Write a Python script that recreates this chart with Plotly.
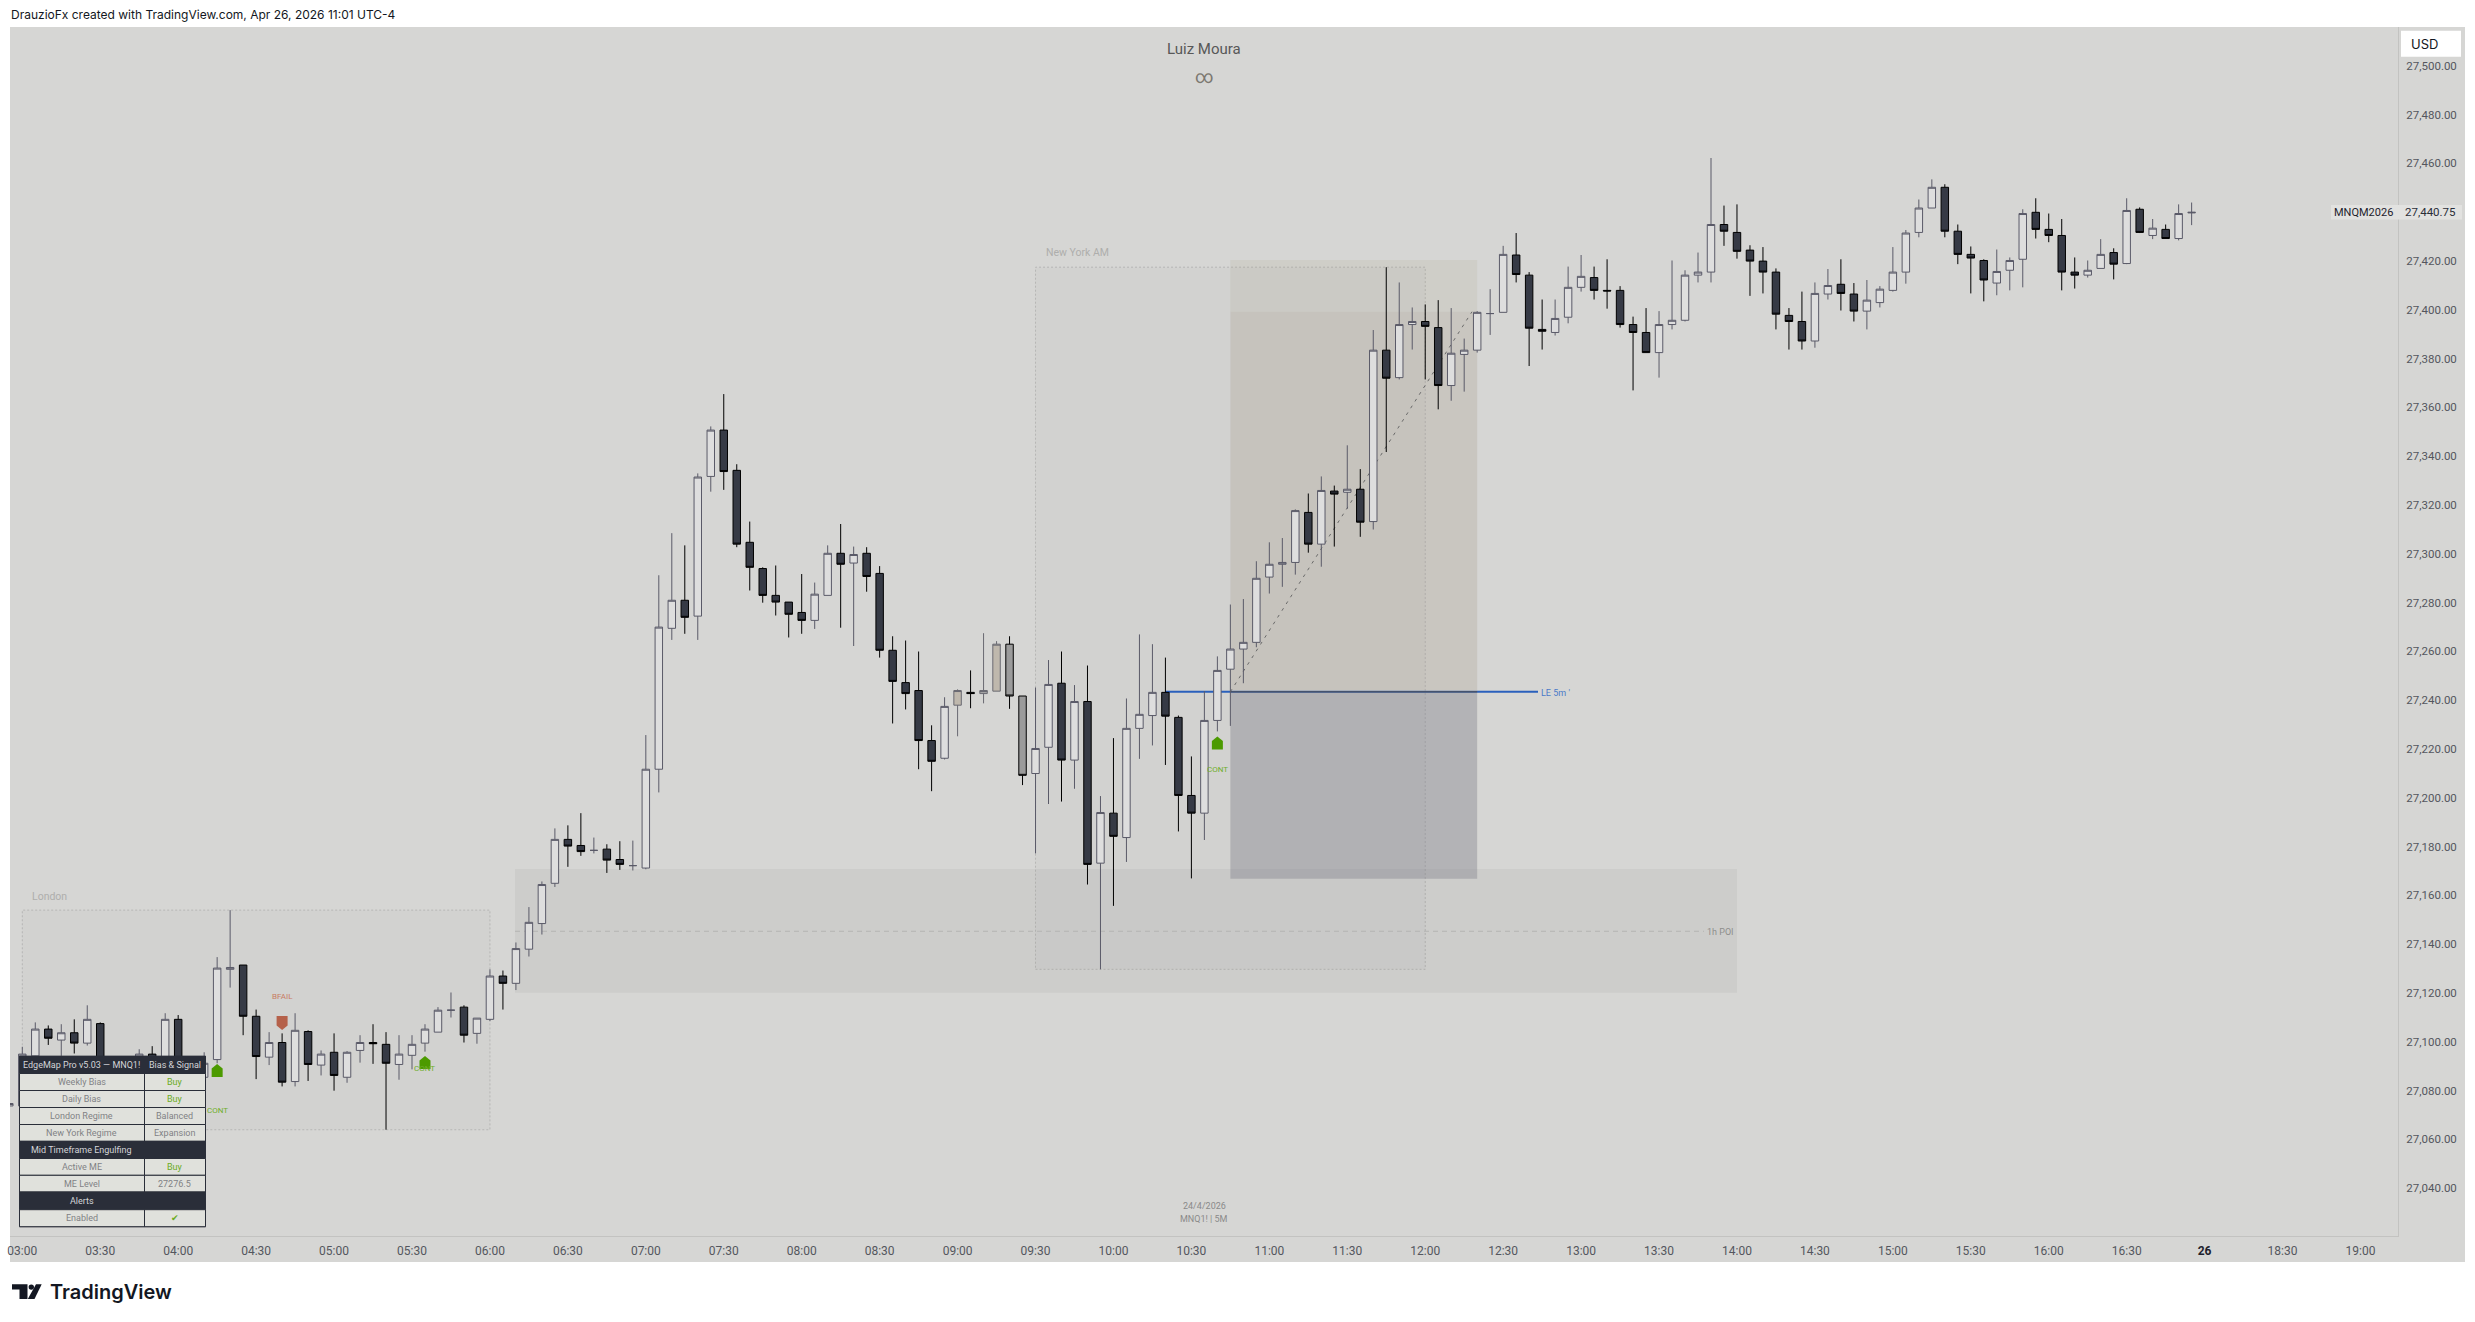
import plotly.graph_objects as go

# 5-minute MNQ bars, numbered from the 03:00 bar (bar 0); the list opens one bar earlier
FIRST_BAR = -1
OPEN = [
    27074.5, 27074.5, 27095, 27106, 27101.5, 27104.5, 27100.25, 27108.25, 27084, 27086,
    27090, 27095.75, 27090, 27110, 27086, 27086.25, 27093.5, 27130.5, 27132.25, 27111.25,
    27094.5, 27100.5, 27084.5, 27105, 27091.25, 27096.5, 27086.25, 27097.25, 27100.5, 27099.75,
    27091.5, 27095.25, 27100.25, 27104.75, 27113.75, 27115, 27104.25, 27110, 27127.75, 27124.75,
    27138.75, 27149.25, 27165.75, 27183.75, 27181.25, 27179.25, 27179.75, 27175.5, 27173, 27172,
    27212.5, 27270.25, 27281.75, 27275.25, 27332.5, 27351.5, 27335, 27305.5, 27294.75, 27283.75,
    27281, 27276.75, 27273.5, 27283.75, 27301, 27297, 27301, 27292.75, 27261.25, 27248,
    27244.75, 27224.25, 27217, 27238.75, 27244, 27243.5, 27244.5, 27263.75, 27242.5, 27210.75,
    27221.5, 27247.75, 27216.25, 27240.25, 27174, 27194.5, 27184.5, 27229.25, 27234.5, 27244,
    27233.75, 27201.75, 27194.5, 27232.5, 27253.5, 27261.75, 27264.5, 27291.25, 27296.5, 27297.25,
    27317.75, 27304.75, 27326.5, 27326, 27327.25, 27314, 27384.25, 27373, 27394.75, 27396,
    27393.5, 27369.75, 27382.5, 27384.25, 27399.25, 27399.75, 27423.25, 27415, 27392.75, 27391.5,
    27397.75, 27410, 27414, 27408.75, 27408.75, 27394.75, 27391.5, 27383.25, 27394.75, 27396.5,
    27415, 27416.25, 27435.75, 27432.5, 27425.25, 27420.75, 27416.25, 27398.5, 27396, 27388,
    27407.25, 27411.25, 27407.25, 27400.25, 27403.75, 27408.75, 27416.25, 27432.5, 27442.5, 27451,
    27433, 27423.5, 27421, 27411.75, 27417, 27421.5, 27440.75, 27433.75, 27431.25, 27416.25,
    27415, 27417.75, 27424.25, 27419.75, 27442, 27431.25, 27433.75, 27430, 27440.5,
]
HIGH = [
    27076, 27098.75, 27108.75, 27107.5, 27108, 27110, 27115.75, 27108.75, 27089, 27092,
    27097.75, 27099, 27112.5, 27111.75, 27089, 27096.5, 27135.5, 27154.75, 27132.25, 27114,
    27104.75, 27104.25, 27112.5, 27105.5, 27097.25, 27104.25, 27097, 27103.5, 27108, 27104.75,
    27103.5, 27103.5, 27108, 27115, 27121, 27115.75, 27110.5, 27130.5, 27130, 27141.5,
    27156, 27166.5, 27188.25, 27189.5, 27194.5, 27184.5, 27181.75, 27183, 27183.25, 27226.5,
    27292, 27309.25, 27304.25, 27333.75, 27353, 27366.25, 27337.5, 27314, 27295.25, 27296,
    27281, 27292.5, 27289, 27304.25, 27313, 27303.75, 27303.5, 27295.75, 27267, 27265.25,
    27260.75, 27230.5, 27242, 27245.25, 27253, 27268.25, 27265, 27267, 27242.5, 27246,
    27257.25, 27260.75, 27247, 27255, 27201.5, 27225.25, 27241.5, 27267.75, 27263.75, 27258.25,
    27234.5, 27217.75, 27244.5, 27258.75, 27280, 27282.25, 27297.75, 27305.5, 27307.25, 27319,
    27325.5, 27332.5, 27328.75, 27345.25, 27335.5, 27392.5, 27418.25, 27412, 27401.75, 27403,
    27404.75, 27401.5, 27389, 27400.25, 27409.25, 27427, 27432.25, 27416.25, 27405, 27405,
    27418.5, 27423.25, 27418.5, 27421.5, 27410.5, 27398, 27401.5, 27400.25, 27421, 27417,
    27424.25, 27463, 27443.5, 27444, 27427.25, 27426.5, 27417.75, 27401.5, 27408.25, 27412,
    27417.5, 27421.5, 27411.75, 27413, 27410.5, 27426.5, 27433.5, 27446, 27454.25, 27452.25,
    27435.75, 27426.75, 27421.5, 27425.5, 27422.25, 27442, 27446.5, 27440.25, 27438, 27422.25,
    27421, 27429.75, 27426, 27446.5, 27442.75, 27438, 27435.75, 27444, 27444.75,
]
LOW = [
    27074, 27073.75, 27094, 27099.5, 27095, 27096, 27099.25, 27083, 27081, 27084,
    27088, 27087, 27088, 27084, 27076, 27082.5, 27092, 27123, 27103.5, 27085.5,
    27091.25, 27082.5, 27082.5, 27084.75, 27087, 27080.75, 27084, 27092.25, 27091.75, 27064.75,
    27085.25, 27089.5, 27096.75, 27104.75, 27110.75, 27100.5, 27100, 27109.25, 27114, 27122,
    27135.75, 27144.75, 27164.25, 27172.5, 27177, 27178, 27170, 27171.25, 27171, 27171.5,
    27203, 27265.5, 27268, 27265.5, 27326.25, 27327, 27303.5, 27285.75, 27280.75, 27275.5,
    27266.5, 27268, 27270, 27283.75, 27270.5, 27263, 27285.25, 27258.25, 27231.25, 27237,
    27212.5, 27203.5, 27216.5, 27226, 27237.5, 27239.5, 27244.5, 27237.25, 27206, 27178,
    27198.25, 27199.25, 27204.5, 27165.25, 27130.5, 27156.5, 27174.5, 27216.75, 27222.25, 27214.25,
    27187, 27167.75, 27183.5, 27228, 27230.25, 27247.75, 27262.5, 27284.5, 27287.25, 27292.25,
    27301.25, 27295.5, 27303.75, 27319.25, 27307.75, 27310.75, 27342.5, 27372.25, 27384.5, 27372.25,
    27360, 27363.5, 27367.25, 27383.25, 27390.5, 27399.75, 27412, 27377.75, 27384.5, 27390.25,
    27395.25, 27408.25, 27405, 27401.25, 27393.5, 27367.75, 27383.25, 27373, 27392.75, 27396,
    27412, 27412, 27427, 27421.75, 27406.5, 27407.5, 27392.75, 27384.5, 27384.5, 27385.25,
    27405, 27400.5, 27396, 27392.75, 27401.75, 27408.25, 27411.5, 27430.5, 27442.5, 27430.5,
    27419.5, 27407.5, 27404.25, 27406.75, 27408.75, 27410, 27430, 27428.5, 27408.75, 27409.5,
    27414, 27417.75, 27413.25, 27419.5, 27432.25, 27429.75, 27430, 27429.25, 27435.5,
]
CLOSE = [
    27075.5, 27095.75, 27106, 27102.25, 27104.5, 27100.25, 27110, 27086, 27086, 27090,
    27095.75, 27090, 27110, 27086, 27080, 27092, 27131, 27131.25, 27111.25, 27094.75,
    27100.5, 27084.25, 27105.5, 27091.5, 27095.75, 27087, 27096.5, 27100.5, 27100, 27092,
    27095.75, 27099.75, 27106, 27113.75, 27113.75, 27103.5, 27110.5, 27127.75, 27124.75, 27139,
    27149.75, 27165.25, 27183.75, 27181, 27178.75, 27179.25, 27175.25, 27173.5, 27173, 27212.5,
    27270.75, 27281.75, 27274.75, 27332.25, 27351.5, 27334.5, 27304.75, 27295.25, 27283.75, 27281,
    27276, 27273.5, 27284.25, 27301, 27296.5, 27300.5, 27291.5, 27261.25, 27248.5, 27243.5,
    27224.25, 27215.75, 27238.25, 27244.75, 27243.5, 27244.75, 27263.75, 27242.5, 27210, 27221,
    27247.25, 27216.25, 27240.25, 27173.5, 27194.75, 27185, 27229.25, 27235, 27244, 27234.25,
    27201.75, 27194.5, 27232.5, 27253, 27261.75, 27264.5, 27290.75, 27296.5, 27297.25, 27318.5,
    27304.75, 27326.75, 27325.25, 27327.25, 27313.75, 27384.25, 27372.75, 27394.75, 27396, 27394,
    27369.75, 27383, 27384.25, 27399.75, 27399.25, 27423.5, 27415.25, 27393.25, 27392, 27397.25,
    27410, 27414.5, 27408.75, 27408.5, 27394.75, 27391.5, 27383.25, 27394.75, 27396.5, 27415,
    27416.25, 27435.75, 27433, 27424.75, 27420.75, 27416.25, 27399, 27396, 27388, 27407.5,
    27410.75, 27407.5, 27400.25, 27404.75, 27409.25, 27416.25, 27432.25, 27442.5, 27451, 27433,
    27423.5, 27422, 27413, 27416.5, 27421, 27440.25, 27433.75, 27431.25, 27416.25, 27415,
    27417, 27423.5, 27419.5, 27441.5, 27432.5, 27434.25, 27430, 27440.25, 27440.75,
]

# Bars the indicator recolours
TAN_BARS = [72, 75]
PALE_GREY_BARS = [74]
GREY_BARS = [76, 77]

TIME_LABELS = [
    "03:00", "03:30", "04:00", "04:30", "05:00", "05:30", "06:00", "06:30", "07:00", "07:30",
    "08:00", "08:30", "09:00", "09:30", "10:00", "10:30", "11:00", "11:30", "12:00", "12:30",
    "13:00", "13:30", "14:00", "14:30", "15:00", "15:30", "16:00", "16:30",
    '<span style="color:#1e222d"><b>26</b></span>', "18:30", "19:00",
]
BARS_PER_TICK = 6

LAST_PRICE = 27440.75
ENTRY_PRICE = 27244.25
TARGET_PRICE = 27400.0
UPPER_TARGET_PRICE = 27421.2
STOP_PRICE = 27167.65
POI_TOP = 27171.6
POI_BOTTOM = 27120.9
POI_MID = 27146.1

LONG_BUY_BARS = [15, 31, 92]
LONG_BUY_PRICES = [27089.0, 27092.3, 27223.25]
CONT_PRICES = [27072.7, 27090.0, 27212.2]
BFAIL_BAR = 20
BFAIL_PRICE = 27108.5
BFAIL_LABEL_PRICE = 27119.25

TABLE_ROWS = [
    ("EdgeMap Pro v5.03 — MNQ1!", "Bias & Signal", "head"),
    ("Weekly Bias", "Buy", "buy"),
    ("Daily Bias", "Buy", "buy"),
    ("London Regime", "Balanced", "plain"),
    ("New York Regime", "Expansion", "plain"),
    ("Mid Timeframe Engulfing", "", "head"),
    ("Active ME", "Buy", "buy"),
    ("ME Level", "27276.5", "plain"),
    ("Alerts", "", "head"),
    ("Enabled", "✔", "buy"),
]

# Page geometry, in pixels
W, H = 2475, 1322
PLOT_L, PLOT_R, PLOT_T, PLOT_B = 10, 2398, 27, 1236
PANEL_R, PANEL_B = 2465, 1262
BAR_PX = 12.99
BAR0_PX = 22.3
PT_PX = 2.44
LAST_PX = 212.3

BG = "#d6d6d4"
AXIS_LINE = "#c3c3c1"
AXIS_TEXT = "#54565e"
INK = "#131722"
FONT = "Roboto"


def paper_x(px):
    return (px - PLOT_L) / (PLOT_R - PLOT_L)


def paper_y(py):
    return (PLOT_B - py) / (PLOT_B - PLOT_T)


def bar_range(px_left, px_right):
    return [(px_left - BAR0_PX) / BAR_PX, (px_right - BAR0_PX) / BAR_PX]


def price_at(py):
    return LAST_PRICE + (LAST_PX - py) / PT_PX


bars = list(range(FIRST_BAR, FIRST_BAR + len(OPEN)))
special = set(TAN_BARS + PALE_GREY_BARS + GREY_BARS)


def candles(selected, fill, line):
    idx = [b - FIRST_BAR for b in selected]
    style = dict(fillcolor=fill, line=dict(color=line, width=1))
    return go.Candlestick(
        x=selected,
        open=[OPEN[i] for i in idx],
        high=[HIGH[i] for i in idx],
        low=[LOW[i] for i in idx],
        close=[CLOSE[i] for i in idx],
        increasing=style,
        decreasing=style,
        whiskerwidth=0,
        showlegend=False,
        hoverinfo="skip",
    )


rising = [b for b in bars if b not in special and CLOSE[b - FIRST_BAR] >= OPEN[b - FIRST_BAR]]
falling = [b for b in bars if b not in special and CLOSE[b - FIRST_BAR] < OPEN[b - FIRST_BAR]]

fig = go.Figure()
fig.add_trace(candles(rising, "#dedede", "#5a5a68"))
fig.add_trace(candles(falling, "#363a45", "#000000"))
fig.add_trace(candles(TAN_BARS, "#bfb8ad", "#6a6a72"))
fig.add_trace(candles(PALE_GREY_BARS, "#a6a6a6", "#6a6a72"))
fig.add_trace(candles(GREY_BARS, "#9b9b9b", "#000000"))

shapes = []
annotations = []


def box(x0, x1, y0, y1, fill, line=None, dash=None, layer="below"):
    shapes.append(dict(
        type="rect", xref="x", yref="y", x0=x0, x1=x1, y0=y0, y1=y1, fillcolor=fill,
        line=dict(color=line or "rgba(0,0,0,0)", width=1 if line else 0, dash=dash),
        layer=layer,
    ))


def seg(x0, y0, x1, y1, color, width=1, dash=None):
    shapes.append(dict(
        type="line", xref="x", yref="y", x0=x0, x1=x1, y0=y0, y1=y1,
        line=dict(color=color, width=width, dash=dash), layer="below",
    ))


def page_rect(x0, y0, x1, y1, fill, line=None, layer="above"):
    shapes.append(dict(
        type="rect", xref="paper", yref="paper",
        x0=paper_x(x0), x1=paper_x(x1), y0=paper_y(y0), y1=paper_y(y1), fillcolor=fill,
        line=dict(color=line or "rgba(0,0,0,0)", width=1 if line else 0), layer=layer,
    ))


def page_text(px, py, text, size, color, anchor="center", family=FONT, weight=None):
    annotations.append(dict(
        xref="paper", yref="paper", x=paper_x(px), y=paper_y(py), text=text, showarrow=False,
        xanchor=anchor, yanchor="middle", align=anchor, borderpad=0,
        font=dict(size=size, color=color, family=family, weight=weight),
    ))


def data_text(bar, price, text, size, color, anchor="center"):
    annotations.append(dict(
        xref="x", yref="y", x=bar, y=price, text=text, showarrow=False,
        xanchor=anchor, yanchor="middle", borderpad=0,
        font=dict(size=size, color=color, family=FONT),
    ))


def marker(bar, price, outline, color):
    # Glyph outline is in pixels round its anchor bar and price
    path = "M" + " L".join(f"{x},{y}" for x, y in outline) + " Z"
    shapes.append(dict(
        type="path", xref="x", yref="y", xsizemode="pixel", ysizemode="pixel",
        xanchor=bar, yanchor=price, path=path, fillcolor=color, line=dict(width=0), layer="above",
    ))


# Chart panel over the white page
page_rect(PLOT_L, PLOT_T, PANEL_R, PANEL_B, BG, layer="below")

# Session ranges
for first, last in [(0, 36), (78, 108)]:
    hi = [HIGH[b - FIRST_BAR] for b in range(first, last + 1)]
    lo = [LOW[b - FIRST_BAR] for b in range(first, last + 1)]
    box(first, last, min(lo), max(hi), "rgba(120,120,115,0.035)", "#b6b6b4", "2px,2px")

# Higher-timeframe point of interest
poi_l, poi_r = bar_range(515, 1737)
box(poi_l, poi_r, POI_BOTTOM, POI_TOP, "rgba(120,120,115,0.085)")
seg(poi_l, POI_MID, bar_range(0, 1704)[1], POI_MID, "#b4b4b2", 1, "5px,4px")

# Long position tool
ENTRY_BAR, EXIT_BAR = 93, 112
line_end = bar_range(0, 1538)[1]
seg(88, ENTRY_PRICE, line_end, ENTRY_PRICE, "#2a60bc", 2)
box(ENTRY_BAR, EXIT_BAR, TARGET_PRICE, UPPER_TARGET_PRICE, "rgba(167,160,132,0.15)")
box(ENTRY_BAR, EXIT_BAR, ENTRY_PRICE, TARGET_PRICE, "rgba(167,157,139,0.27)")
box(ENTRY_BAR, EXIT_BAR, STOP_PRICE, ENTRY_PRICE, "rgba(130,132,140,0.42)")
seg(ENTRY_BAR, ENTRY_PRICE, EXIT_BAR, ENTRY_PRICE, "#45536e", 1.5)
seg(ENTRY_BAR, ENTRY_PRICE, 111.6, TARGET_PRICE, "#6a6a6a", 1, "3px,5px")

# Signal glyphs
HOUSE = [(0, 6.5), (5.5, 2), (5.5, -6.5), (-5.5, -6.5), (-5.5, 2)]
SHIELD = [(-5.5, 7), (5.5, 7), (5.5, -2.5), (0, -7), (-5.5, -2.5)]
for bar, price in zip(LONG_BUY_BARS, LONG_BUY_PRICES):
    marker(bar, price, HOUSE, "#4c9a00")
marker(BFAIL_BAR, BFAIL_PRICE, SHIELD, "#b5614a")

# Dashboard table
TBL_L, TBL_M, TBL_R = 19.5, 144.5, 205.5
row_edges = [1056.3, 1073.5, 1090.5, 1107.5, 1124.5, 1141.3, 1158.5, 1175.3, 1192.0, 1209.7, 1226.7]
page_rect(TBL_L, row_edges[0], TBL_R, row_edges[-1], "#e0e1dc", "#2a2e39")
for i, (left, right, kind) in enumerate(TABLE_ROWS):
    top, bottom = row_edges[i], row_edges[i + 1]
    mid = (top + bottom) / 2
    if kind == "head":
        page_rect(TBL_L, top, TBL_R, bottom, "#2a2e39", "#2a2e39")
        page_text(81.5, mid, left, 9, "#d4d5d8")
        if right:
            page_text(175, mid, right, 9, "#d4d5d8")
    else:
        page_rect(TBL_L, top, TBL_R, bottom, "#e0e1dc", "#2a2e39")
        shapes.append(dict(
            type="line", xref="paper", yref="paper", x0=paper_x(TBL_M), x1=paper_x(TBL_M),
            y0=paper_y(top), y1=paper_y(bottom), line=dict(color="#2a2e39", width=1), layer="above",
        ))
        page_text(81.5, mid, left, 9, "#808285")
        page_text(175, mid, right, 9, "#6aab23" if kind == "buy" else "#808285")

# Chart texts
page_text(49.5, 896.7, "London", 10.5, "#aeaeac")
page_text(1077, 253, "New York AM", 10.5, "#aeaeac")
page_text(1720, 931.5, "1h POI", 9, "#8e8e8c")
page_text(1540, 693, "LE 5m '", 9, "#4a7ac8", anchor="left")
for bar, price in zip(LONG_BUY_BARS, CONT_PRICES):
    data_text(bar, price, "CONT", 8, "#6fae2c")
data_text(BFAIL_BAR, BFAIL_LABEL_PRICE, "BFAIL", 8, "#c87c64")

page_text(1204, 49.3, "Luiz Moura", 15, "#585858")
page_text(1204, 76, "∞", 18, "#7c7870")
page_text(1204, 1205.5, "24/4/2026", 9, "#8a8a8a")
page_text(1204, 1219, "MNQ1! | 5M", 9, "#8a8a8a")

# Page header and footer
page_text(10, 15, "DrauzioFx created with TradingView.com, Apr 26, 2026 11:01 UTC-4", 12, INK,
          anchor="left", family="Inter")
page_text(49, 1292, "TradingView", 20, "#131722", anchor="left", family="Inter", weight=600)


def page_path(points):
    return "M" + " L".join(f"{paper_x(x):.6f},{paper_y(y):.6f}" for x, y in points) + " Z"


logo_parts = [
    [(12, 1284.3), (27.5, 1284.3), (27.5, 1299), (19.5, 1299), (19.5, 1289.5), (12, 1289.5)],
    [(36, 1284.3), (41.7, 1284.3), (34.5, 1299), (27.8, 1299)],
]
for part in logo_parts:
    shapes.append(dict(type="path", xref="paper", yref="paper", path=page_path(part),
                       fillcolor="#131722", line=dict(width=0), layer="above"))
shapes.append(dict(type="circle", xref="paper", yref="paper", x0=paper_x(28.6), x1=paper_x(34),
                   y0=paper_y(1284.4), y1=paper_y(1289.7), fillcolor="#131722",
                   line=dict(width=0), layer="above"))

# Currency button and last-price tags on the price scale
shapes.append(dict(type="rect", xref="paper", yref="paper", x0=paper_x(2401), x1=paper_x(2461),
                   y0=paper_y(30.7), y1=paper_y(56.7), fillcolor="#ffffff",
                   line=dict(width=0), layer="above"))
page_text(2410, 44, "USD", 13, "#131722", anchor="left", family="Inter")
page_rect(2331, 205, PANEL_R - 3, 219.5, "#e2e2e0")
page_text(2363.5, 212.3, "MNQM2026", 11, "#1e222d")
page_text(2430.5, 212, f"{LAST_PRICE:,.2f}", 11.5, "#2a2e39")

fig.update_layout(
    width=W, height=H, autosize=False,
    margin=dict(l=PLOT_L, r=W - PLOT_R, t=PLOT_T, b=H - PLOT_B, pad=0, autoexpand=False),
    paper_bgcolor="#ffffff", plot_bgcolor=BG,
    boxmode="overlay", boxgap=0.18, boxgroupgap=0.3,
    hovermode=False, showlegend=False,
    shapes=shapes, annotations=annotations,
    font=dict(family=FONT, color=AXIS_TEXT, size=12),
    xaxis=dict(
        range=bar_range(PLOT_L, PLOT_R),
        tickmode="array",
        tickvals=[i * BARS_PER_TICK for i in range(len(TIME_LABELS))],
        ticktext=TIME_LABELS,
        showgrid=False, zeroline=False, showline=True, linecolor=AXIS_LINE, linewidth=1,
        ticks="outside", ticklen=4, tickcolor=BG,
        tickfont=dict(size=12, color=AXIS_TEXT, family=FONT),
        rangeslider=dict(visible=False),
    ),
    yaxis=dict(
        range=[price_at(PLOT_B), price_at(PLOT_T)],
        side="right",
        tick0=27000, dtick=20, tickformat=",.2f",
        showgrid=False, zeroline=False, showline=True, linecolor=AXIS_LINE, linewidth=1,
        ticks="outside", ticklen=5, tickcolor=BG, ticklabelshift=-2,
        tickfont=dict(size=11.5, color=AXIS_TEXT, family=FONT),
    ),
)

fig.write_html("out.html", config={"displayModeBar": False})
